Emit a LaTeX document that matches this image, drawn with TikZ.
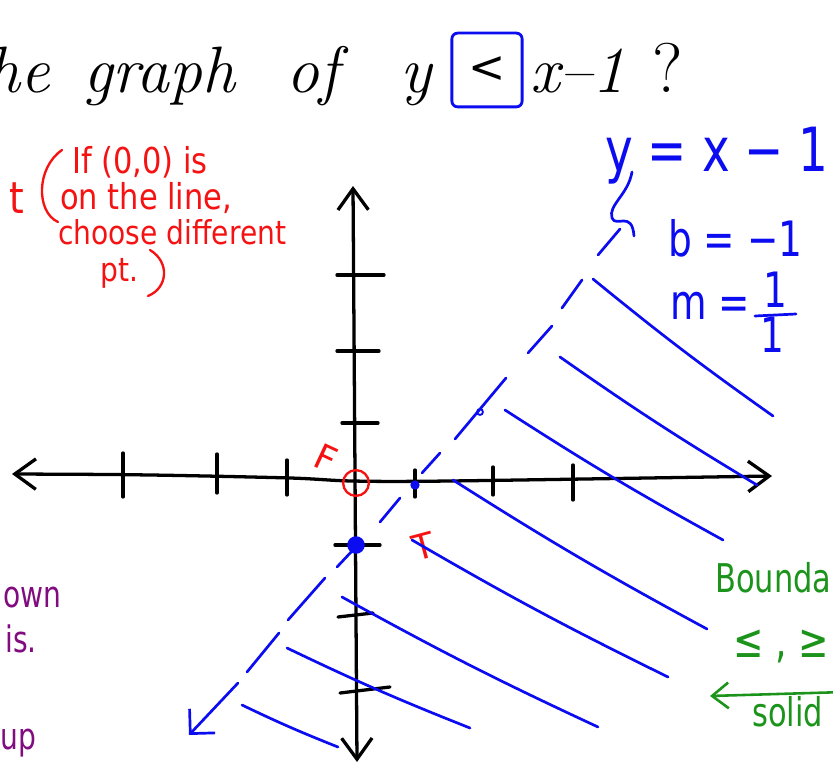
\documentclass[tikz,border=0pt]{standalone}
\usepackage{fontspec}
\usepackage{xcolor}
\usetikzlibrary{positioning,arrows.meta,calc}
\newfontfamily\handfont{DejaVu Sans}
\definecolor{penblue}{RGB}{12,12,240}
\definecolor{penred}{RGB}{245,18,18}
\definecolor{pengreen}{RGB}{28,148,28}
\definecolor{penpurple}{RGB}{128,12,128}
\tikzset{
  axis/.style={draw=black, line width=2.8pt, line cap=round, line join=round},
  bluepen/.style={draw=penblue, line width=2.3pt, line cap=round, line join=round},
  greenpen/.style={draw=pengreen, line width=2.2pt, line cap=round, line join=round},
  redpen/.style={draw=penred, line width=2pt, line cap=round},
  titletext/.style={inner sep=0pt, anchor=base west, font=\fontsize{56}{58}\selectfont\itshape},
  hand/.style={inner sep=0pt, anchor=base west, yscale=1.3},
  rednote/.style={hand, yscale=0.9, text=penred, font=\handfont\fontsize{24}{26}\selectfont},
  bluenote/.style={hand, text=penblue, font=\handfont\fontsize{40}{44}\selectfont},
  greennote/.style={hand, text=pengreen, font=\handfont\fontsize{26}{28}\selectfont},
  purplenote/.style={hand, text=penpurple, font=\handfont\fontsize{24}{26}\selectfont},
  bigdot/.style={circle, fill=penblue, inner sep=0pt, minimum size=15pt},
  smalldot/.style={circle, fill=penblue, inner sep=0pt, minimum size=8pt},
  axistip/.tip={Straight Barb[length=18pt,width=26pt]},
  boundtip/.tip={Straight Barb[length=15pt,width=30pt]}
}

\begin{document}
\begin{tikzpicture}[x=0.03cm,y=-0.03cm]
\useasboundingbox (0,0) rectangle (833,765);

\node[titletext, anchor=base east] (the) at (50,93) {the};
\node[titletext] (graph) at (83,93) {graph};
\node[titletext] (of) at (286,93) {of};
\node[titletext] (yvar) at (400,93) {y};
\node[draw=penblue, line width=2.4pt, rounded corners=5pt, minimum width=60pt, minimum height=63pt, inner sep=0pt, font=\handfont\fontsize{38}{40}\selectfont] (sign) at (487,70) {<};
\node[titletext] (rhs) at (530,93) {x--1};
\node[titletext, font=\fontsize{60}{62}\selectfont] (qmark) at (652,93) {?};

\node[rednote, font=\handfont\fontsize{32}{34}\selectfont, anchor=base east] (ptend) at (24,214) {t};
\node[rednote, font=\handfont\fontsize{26}{28}\selectfont] (line1) at (72,174) {If (0,0) is};
\node[rednote, font=\handfont\fontsize{26}{28}\selectfont] (line2) at (60,210) {on the line,};
\node[rednote] (line3) at (58,245) {choose different};
\node[rednote] (line4) at (100,282) {pt.};
\draw[redpen] (62,150) .. controls (36,168) and (36,212) .. (58,222);
\draw[redpen] (150,250) .. controls (170,262) and (168,288) .. (148,296);

\node[bluenote] (eqline) at (605,172) {y = x − 1};
\draw[bluepen] (632,172) .. controls (628,195) and (608,205) .. (612,218) .. controls (616,228) and (632,210) .. (634,236);
\node[bluenote, font=\handfont\fontsize{32}{34}\selectfont] (bval) at (668,257) {b = −1};
\node[bluenote, font=\handfont\fontsize{32}{34}\selectfont] (mval) at (670,320) {m =};
\node[bluenote, font=\handfont\fontsize{32}{34}\selectfont, anchor=base] (mnum) at (775,308) {1};
\node[bluenote, font=\handfont\fontsize{32}{34}\selectfont, anchor=base] (mden) at (772,353) {1};
\draw[bluepen] (755,316) -- (796,314);

\draw[axis, axistip-axistip] plot[smooth] coordinates {(12,474) (150,475) (290,478) (352,481) (450,481) (772,476)};
\draw[axis, axistip-axistip] (357,762) -- (353,186);

\draw[axis] (123,453) -- (123,497);
\draw[axis] (217,454) -- (217,493);
\draw[axis] (287,460) -- (287,495);
\draw[axis] (415,470) -- (415,497);
\draw[axis] (493,467) -- (493,495);
\draw[axis] (573,465) -- (573,500);

\draw[axis] (337,275) -- (384,275);
\draw[axis] (337,351) -- (379,351);
\draw[axis] (342,423) -- (378,423);
\draw[axis] (335,545) -- (380,545);
\draw[axis] (338,617) -- (373,613);
\draw[axis] (340,693) -- (390,687);

\draw[bluepen] (620,229) -- (598,255);
\draw[bluepen] (582,280) -- (562,308);
\draw[bluepen] (552,326) -- (528,353);
\draw[bluepen] (506,378) -- (455,439);
\draw[bluepen] (440,453) -- (422,473);
\draw[bluepen] (400,498) -- (380,522);
\draw[bluepen] (353,550) -- (337,567);
\draw[bluepen] (325,578) -- (288,620);
\draw[bluepen] (279,633) -- (247,672);
\draw[bluepen, -boundtip] (238,683) -- (189,735);

\node[bigdot] (yint) at (356,545) {};
\node[smalldot] (xint) at (415,485) {};
\node[circle, draw=penblue, line width=1.6pt, inner sep=0pt, minimum size=5pt] (ptone) at (480,412) {};

\node[circle, draw=penred, line width=2pt, minimum size=22pt, inner sep=0pt] (origin) at (356,483) {};
\node[text=penred, font=\handfont\fontsize{30}{32}\selectfont, rotate=-25, inner sep=0pt] (false) at (326,458) {F};
\node[text=penred, font=\handfont\fontsize{30}{32}\selectfont, rotate=15, inner sep=0pt] (true) at (424,546) {T};

\draw[bluepen] (593,279) to[bend right=2] (773,416);
\draw[bluepen] (560,357) to[bend right=2] (757,485);
\draw[bluepen] (505,410) to[bend right=2] (723,540);
\draw[bluepen] (453,480) to[bend right=2] (707,629);
\draw[bluepen] (412,540) to[bend right=2] (668,677);
\draw[bluepen] (342,597) to[bend right=2] (598,727);
\draw[bluepen] (287,648) to[bend right=2] (470,728);
\draw[bluepen] (242,705) to[bend right=2] (338,747);

\node[greennote] (bnd) at (715,592) {Bounda};
\node[greennote, font=\handfont\fontsize{31}{33}\selectfont] (rel) at (733,657) {≤ , ≥};
\coordinate (arrtail) at (845,692);
\coordinate (arrtip) at (710,696);
\draw[greenpen, -{Straight Barb[length=14pt,width=22pt]}] (arrtail) -- (arrtip);
\node[greennote] (solidtxt) at (752,726) {solid};

\node[purplenote] (own) at (3,607) {own};
\node[purplenote, anchor=base east] (thisis) at (37,652) {is.};
\node[purplenote] (up) at (0,749) {up};
\end{tikzpicture}
\end{document}
